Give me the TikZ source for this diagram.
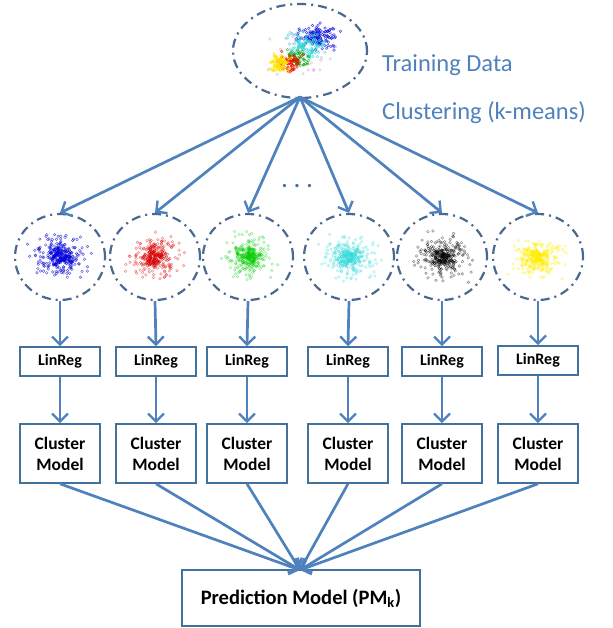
\documentclass[tikz,border=0pt]{standalone}
\usepackage{fontspec}
\setmainfont{Carlito}
\usetikzlibrary{shapes.geometric,arrows.meta}
\definecolor{lineblue}{HTML}{4F81BD}
\definecolor{boxblue}{HTML}{41719C}
\definecolor{dashblue}{HTML}{4A6890}
\definecolor{cyanpt}{HTML}{30D8D8}
\newcommand\mycloud[7]{%
  \foreach \i in {1,...,#4}{%
    \pgfmathsetmacro\dx{(rand+rand+rand)*#5}%
    \pgfmathsetmacro\dy{(rand+rand+rand)*#6}%
    \draw[#3,line width=0.5pt,opacity=#7] (#1+\dx,#2+\dy) circle (1.3pt);
  }}
\tikzset{
  conn/.style={draw=lineblue,line width=2.7pt,-{Straight Barb[length=8pt,width=16pt,line width=2.4pt]}},
  clusterell/.style={ellipse,draw=dashblue,line width=2.2pt,dash pattern=on 9pt off 5pt on 2pt off 5pt,minimum width=90pt,minimum height=86pt,inner sep=0pt},
  topell/.style={ellipse,draw=dashblue,line width=2.2pt,dash pattern=on 9pt off 5pt on 2pt off 5pt,minimum width=134pt,minimum height=94pt,inner sep=0pt},
  linbox/.style={draw=boxblue,line width=1.6pt,minimum width=80pt,minimum height=29pt,inner sep=0pt,font=\fontsize{16}{18}\selectfont\bfseries},
  cmbox/.style={draw=boxblue,line width=1.6pt,minimum width=80pt,minimum height=59pt,inner sep=0pt,align=center,font=\fontsize{17.5}{21}\selectfont\bfseries},
  pmbox/.style={draw=boxblue,line width=1.6pt,minimum width=238pt,minimum height=56pt,inner sep=0pt,font=\fontsize{20.5}{24}\selectfont\bfseries},
  lbl/.style={text=lineblue,font=\fontsize{24.5}{28}\selectfont,anchor=west,inner sep=0pt}
}
\begin{document}
\begin{tikzpicture}[x=1pt,y=-1pt]
\useasboundingbox (0,0) rectangle (612,628);
\pgfmathsetseed{7}
% top data cloud
\mycloud{300}{52}{violet!60}{40}{15}{11}{0.4}
\mycloud{318}{36}{blue!85!black}{130}{10}{6}{0.7}
\mycloud{306}{46}{cyanpt}{110}{9}{6}{0.75}
\mycloud{297}{57}{green!70!black}{60}{6}{5}{0.75}
\mycloud{290}{62}{red}{70}{6}{4}{0.8}
\mycloud{280}{64}{yellow!90!orange}{80}{5}{4}{0.9}
\node[topell] (top) at (300,51) {};
\node[lbl] (td) at (382,65) {Training Data};
\node[lbl] (cl) at (382,113) {Clustering (k-means)};
% clusters
\mycloud{60}{257}{blue!85!black}{220}{12}{10}{0.6}
\mycloud{60}{257}{blue!85!black}{80}{5}{4}{0.8}
\mycloud{155}{257}{red!85!black}{220}{12}{10}{0.45}
\mycloud{155}{257}{red!85!black}{80}{5}{4}{0.7}
\mycloud{248}{257}{green!80!black}{220}{11}{10}{0.4}
\mycloud{248}{257}{green!80!black}{80}{5}{4}{0.65}
\mycloud{349}{257}{cyanpt}{220}{12}{10}{0.45}
\mycloud{349}{257}{cyanpt}{80}{5}{4}{0.7}
\mycloud{442}{257}{black}{220}{12}{10}{0.45}
\mycloud{442}{257}{black}{80}{5}{4}{0.65}
\mycloud{538}{257}{yellow!95!orange}{220}{11}{9}{0.5}
\mycloud{538}{257}{yellow!95!orange}{80}{5}{4}{0.75}
\node[clusterell] (c1) at (60,257) {};
\node[clusterell] (c2) at (155,257) {};
\node[clusterell] (c3) at (248,257) {};
\node[clusterell] (c4) at (349,257) {};
\node[clusterell] (c5) at (442,257) {};
\node[clusterell] (c6) at (538,257) {};
\node[text=boxblue,font=\fontsize{22}{24}\selectfont\bfseries,inner sep=0pt] (dots) at (297,186) {. . .};
% LinReg boxes
\node[linbox] (l1) at (60,361.5) {LinReg};
\node[linbox] (l2) at (156,361.5) {LinReg};
\node[linbox] (l3) at (247,361.5) {LinReg};
\node[linbox] (l4) at (348,361.5) {LinReg};
\node[linbox] (l5) at (442,361.5) {LinReg};
\node[linbox] (l6) at (538,360.5) {LinReg};
% Cluster model boxes
\node[cmbox] (m1) at (60,453.5) {Cluster\\Model};
\node[cmbox] (m2) at (156,453.5) {Cluster\\Model};
\node[cmbox] (m3) at (247,453.5) {Cluster\\Model};
\node[cmbox] (m4) at (348,453.5) {Cluster\\Model};
\node[cmbox] (m5) at (442,453.5) {Cluster\\Model};
\node[cmbox] (m6) at (538,453.5) {Cluster\\Model};
% prediction model
\node[pmbox] (pm) at (301,598) {Prediction Model (PM\textsubscript{k})};
\coordinate (pmtop) at (300,570);
\coordinate (src) at (300,97);
% connectors
\foreach \c in {c1,c2,c3,c4,c5,c6}{\draw[conn] (src) -- (\c.north);}
\foreach \c/\l in {c1/l1,c2/l2,c3/l3,c4/l4,c5/l5,c6/l6}{\draw[conn] (\c.south) -- (\l.north);}
\foreach \l/\m in {l1/m1,l2/m2,l3/m3,l4/m4,l5/m5,l6/m6}{\draw[conn] (\l.south) -- (\m.north);}
\foreach \m in {m1,m2,m3,m4,m5,m6}{\draw[conn] (\m.south) -- (pmtop);}
\end{tikzpicture}
\end{document}
